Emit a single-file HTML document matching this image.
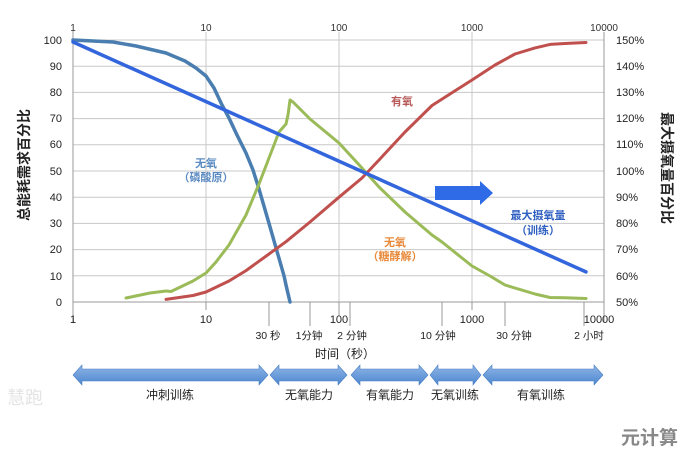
<!DOCTYPE html>
<html><head><meta charset="utf-8"><style>
body{margin:0;background:#fff}
svg{display:block}
text{font-family:"Liberation Sans","Noto Sans CJK SC",sans-serif}
</style></head><body>
<svg width="689" height="451" viewBox="0 0 689 451" xmlns="http://www.w3.org/2000/svg">
<rect width="689" height="451" fill="#fff"/>
<g stroke="#c8c8c8" stroke-width="1">
<line x1="73" y1="40" x2="604" y2="40"/><line x1="73" y1="66.2" x2="604" y2="66.2"/><line x1="73" y1="92.4" x2="604" y2="92.4"/><line x1="73" y1="118.6" x2="604" y2="118.6"/><line x1="73" y1="144.8" x2="604" y2="144.8"/><line x1="73" y1="171" x2="604" y2="171"/><line x1="73" y1="197.2" x2="604" y2="197.2"/><line x1="73" y1="223.4" x2="604" y2="223.4"/><line x1="73" y1="249.6" x2="604" y2="249.6"/><line x1="73" y1="275.8" x2="604" y2="275.8"/>
<line x1="206" y1="32" x2="206" y2="302"/><line x1="339" y1="32" x2="339" y2="302"/><line x1="472" y1="32" x2="472" y2="302"/>
</g>
<g stroke="#999" stroke-width="1">
<line x1="73" y1="30" x2="73" y2="322"/><line x1="604" y1="32" x2="604" y2="322"/><line x1="73" y1="302" x2="604" y2="302"/>
<line x1="269" y1="302" x2="269" y2="326"/><line x1="310" y1="302" x2="310" y2="326"/><line x1="350" y1="302" x2="350" y2="326"/><line x1="442" y1="302" x2="442" y2="326"/><line x1="505" y1="302" x2="505" y2="326"/><line x1="584" y1="302" x2="584" y2="326"/>
<line x1="206" y1="302" x2="206" y2="310"/><line x1="339" y1="302" x2="339" y2="316"/><line x1="472" y1="302" x2="472" y2="310"/>
</g>
<g font-size="10" fill="#333" text-anchor="middle">
<text x="73" y="31">1</text><text x="206" y="31">10</text><text x="339" y="31">100</text><text x="472" y="31">1000</text><text x="604" y="31">10000</text>
</g>
<g font-size="11" fill="#222" text-anchor="end">
<text x="62" y="44">100</text><text x="62" y="70">90</text><text x="62" y="96">80</text><text x="62" y="122">70</text><text x="62" y="148">60</text><text x="62" y="175">50</text><text x="62" y="201">40</text><text x="62" y="227">30</text><text x="62" y="253">20</text><text x="62" y="280">10</text><text x="62" y="306">0</text>
</g>
<g font-size="11" fill="#222">
<text x="616" y="44">150%</text><text x="616" y="70">140%</text><text x="616" y="96">130%</text><text x="616" y="122">120%</text><text x="616" y="148">110%</text><text x="616" y="175">100%</text><text x="616" y="201">90%</text><text x="616" y="227">80%</text><text x="616" y="253">70%</text><text x="616" y="280">60%</text><text x="616" y="306">50%</text>
</g>
<text transform="translate(29,165) rotate(-90)" font-size="14" font-weight="bold" fill="#222" text-anchor="middle">总能耗需求百分比</text>
<text transform="translate(662,168) rotate(90)" font-size="14" font-weight="bold" fill="#222" text-anchor="middle">最大摄氧量百分比</text>
<g fill="none" stroke-linejoin="round" stroke-linecap="round">
<path d="M73,40 L113,42 L136,46 L166,53 L185,61 L196,68 L206,76 L214,88 L222,105 L229,118 L237,135 L246,153 L253,170 L259,189 L269,223.4 L278,254.8 L284,275.8 L286,285 L290,302" stroke="#4a7eb0" stroke-width="3.5"/>
<path d="M126,298 L150,293 L166,291 L171,291.5 L193,281 L206,273 L216,262 L229,245 L246,215 L259,184 L269,158 L279,132 L286,124 L288,115 L290,100 L293,102 L310,119 L339,143 L362,168 L379,187 L405,212 L432,235 L442,242 L472,266 L490,276 L505,285 L535,294 L550,297.5 L565,297.8 L586,298.5" stroke="#9bbb59" stroke-width="3"/>
<path d="M166,299.4 L193,295.5 L206,292 L229,281 L246,270.6 L269,254 L286,241.7 L310,222 L339,197.2 L362,178 L379,160 L405,132 L432,105.5 L450,94 L472,80 L495,65 L515,54 L535,47.9 L550,44.4 L565,43.5 L586,42.5" stroke="#c0504d" stroke-width="3"/>
<line x1="73" y1="42" x2="586" y2="271.9" stroke="#3366dd" stroke-width="3.5"/>
</g>
<polygon points="435,186 480,186 480,181 493,193 480,205 480,200 435,200" fill="#2f6be6"/>
<g font-size="11" font-weight="bold" text-anchor="middle">
<text x="206" y="167" fill="#5a8ac2">无氧</text><text x="206" y="181" fill="#5a8ac2">（磷酸原）</text>
<text x="402" y="105" fill="#b65a5a">有氧</text>
<text x="395" y="246" fill="#e8893a">无氧</text><text x="395" y="260" fill="#e8893a">（糖酵解）</text>
<text x="538" y="219" fill="#2f5fc0">最大摄氧量</text><text x="538" y="234" fill="#2f5fc0">（训练）</text>
</g>
<g font-size="11" fill="#222" text-anchor="middle">
<text x="73" y="323">1</text><text x="206" y="323">10</text><text x="339" y="323">100</text><text x="472" y="323">1000</text><text x="599" y="323">10000</text>
</g>
<g font-size="10.5" fill="#222" text-anchor="middle">
<text x="268" y="339">30 秒</text><text x="309" y="339">1分钟</text><text x="352" y="339">2 分钟</text><text x="438" y="339">10 分钟</text><text x="514" y="339">30 分钟</text><text x="589" y="339">2 小时</text>
</g>
<text x="345" y="358" font-size="12" fill="#222" text-anchor="middle">时间（秒）</text>
<defs><linearGradient id="g" x1="0" y1="0" x2="0" y2="1"><stop offset="0" stop-color="#8fb5e6"/><stop offset="1" stop-color="#4c86cf"/></linearGradient></defs>
<g fill="url(#g)" stroke="#4a7fc4" stroke-width="0.6">
<polygon points="73,375 82,365 82,369 259,369 259,365 268,375 259,385 259,381 82,381 82,385"/>
<polygon points="270,375 279,365 279,369 338,369 338,365 347,375 338,385 338,381 279,381 279,385"/>
<polygon points="351,375 360,365 360,369 419,369 419,365 428,375 419,385 419,381 360,381 360,385"/>
<polygon points="430,375 438,365 438,369 473,369 473,365 481,375 473,385 473,381 438,381 438,385"/>
<polygon points="483,375 492,365 492,369 594,369 594,365 603,375 594,385 594,381 492,381 492,385"/>
</g>
<g font-size="12" fill="#222" text-anchor="middle">
<text x="170" y="399">冲刺训练</text><text x="309" y="399">无氧能力</text><text x="390" y="399">有氧能力</text><text x="455" y="399">无氧训练</text><text x="541" y="399">有氧训练</text>
</g>
<text x="7" y="404" font-size="18" fill="#e4e4e4">慧跑</text>
<text x="621" y="444" font-size="19" font-weight="bold" fill="#888">元计算</text>
</svg>
</body></html>
